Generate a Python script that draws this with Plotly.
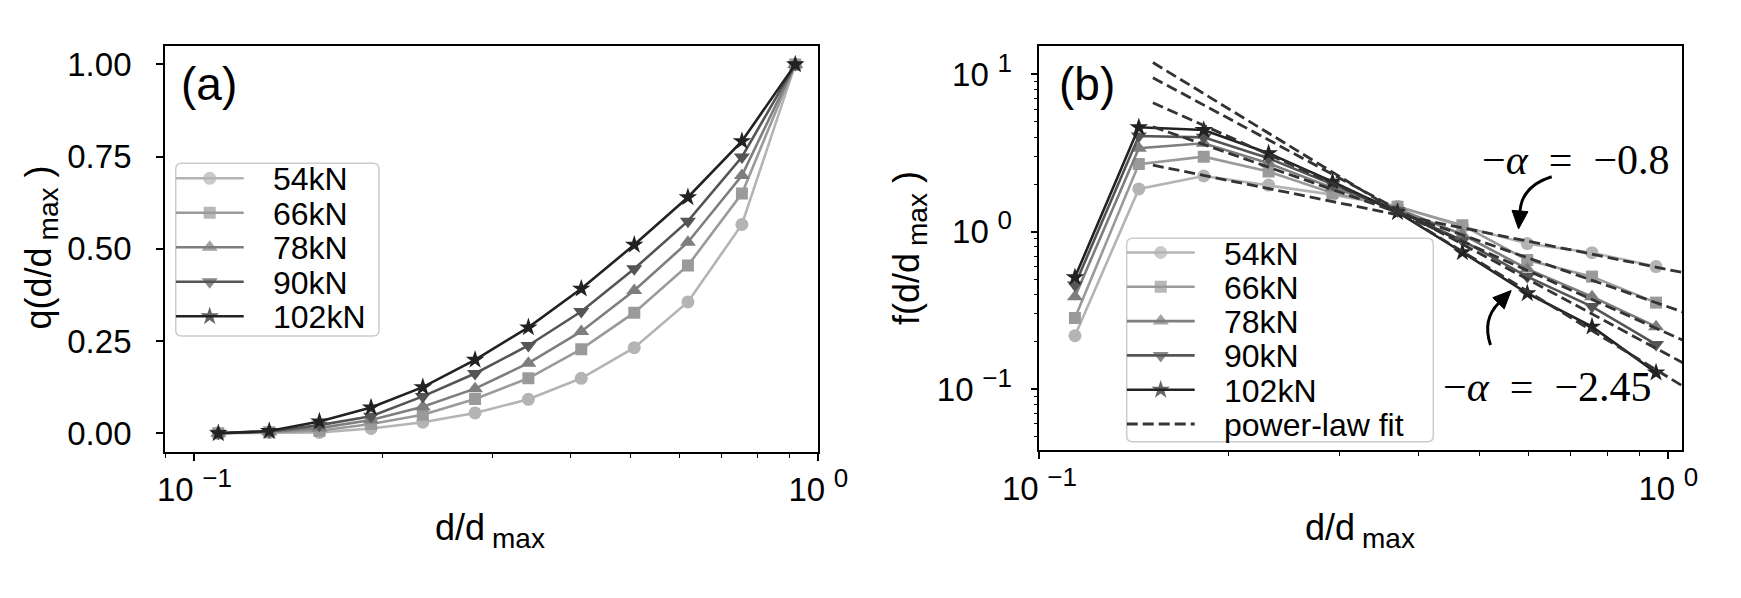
import math
import plotly.graph_objects as go

# ---------------- data ----------------
series_names = ["54kN", "66kN", "78kN", "90kN", "102kN"]
series_colors = ["#b4b4b4", "#9a9a9a", "#7e7e7e", "#555555", "#222222"]
series_symbols = ["circle", "square", "triangle-up", "triangle-down", "star"]
series_sizes = [13, 12, 14, 14, 14]

# panel (a): cumulative q(d/dmax)
xa = [0.1092, 0.1318, 0.1586, 0.1919, 0.2323, 0.2817, 0.3430, 0.4169, 0.5070, 0.6180, 0.7543, 0.9185]
q54 = [0.0, 0.002, 0.002, 0.013, 0.030, 0.055, 0.092, 0.149, 0.232, 0.356, 0.566, 1.0]
q66 = [0.0, 0.003, 0.007, 0.025, 0.050, 0.093, 0.149, 0.228, 0.327, 0.455, 0.650, 1.0]
q78 = [0.0, 0.004, 0.014, 0.036, 0.072, 0.121, 0.190, 0.276, 0.387, 0.518, 0.699, 1.0]
q90 = [0.0, 0.005, 0.022, 0.046, 0.100, 0.162, 0.238, 0.330, 0.446, 0.575, 0.749, 1.0]
q102 = [0.0, 0.006, 0.032, 0.070, 0.125, 0.199, 0.287, 0.392, 0.511, 0.640, 0.792, 1.0]

# panel (b): f(d/dmax)
xb = [0.1139, 0.1439, 0.1825, 0.2314, 0.2924, 0.3709, 0.4704, 0.5965, 0.7560, 0.9557]
f54 = [0.218, 1.87, 2.26, 1.98, 1.72, 1.45, 1.08, 0.84, 0.735, 0.60]
f66 = [0.283, 2.69, 3.00, 2.41, 1.76, 1.44, 1.10, 0.66, 0.518, 0.354]
f78 = [0.386, 3.39, 3.65, 2.72, 1.90, 1.40, 0.96, 0.58, 0.386, 0.249]
f90 = [0.458, 4.06, 3.98, 2.93, 2.00, 1.36, 0.88, 0.518, 0.334, 0.192]
f102 = [0.513, 4.61, 4.43, 3.15, 2.08, 1.33, 0.74, 0.406, 0.249, 0.127]

# power-law fit lines (end points)
fit_x = [0.1515, 1.0578]
fit54 = [2.65, 0.548]
fit66 = [4.65, 0.307]
fit78 = [6.61, 0.203]
fit90 = [9.53, 0.1457]
fit102 = [11.9, 0.1034]

qa = [q54, q66, q78, q90, q102]
fb = [f54, f66, f78, f90, f102]
fits = [fit54, fit66, fit78, fit90, fit102]

alpha_labels = ["\u2212<i>\u03b1</i>\u2002=\u2002\u22120.8", "\u2212<i>\u03b1</i>\u2002=\u2002\u22122.45"]
fit_label = "power-law fit"

# ---------------- layout helpers ----------------
W, H = 1741, 598
def fx(p):
    return p / W
def fy(p):
    return 1 - p / H

SANS = "Liberation Sans, Arial, sans-serif"
SERIF = "Liberation Serif, Times New Roman, serif"
FIT_COLOR = "#333333"
TXT = "#000000"
LW = 2.6

fig = go.Figure()

# panel (a)
for name, c, sym, sz, yv in zip(series_names, series_colors, series_symbols, series_sizes, qa):
    fig.add_trace(go.Scatter(x=xa, y=yv, mode="lines+markers", name=name,
                             line=dict(color=c, width=LW),
                             marker=dict(symbol=sym, size=sz, color=c, line=dict(width=0)),
                             xaxis="x", yaxis="y", showlegend=False))

# panel (b)
for name, c, sym, sz, yv in zip(series_names, series_colors, series_symbols, series_sizes, fb):
    fig.add_trace(go.Scatter(x=xb, y=yv, mode="lines+markers", name=name,
                             line=dict(color=c, width=LW),
                             marker=dict(symbol=sym, size=sz, color=c, line=dict(width=0)),
                             xaxis="x2", yaxis="y2", showlegend=False))
for fv in fits:
    fig.add_trace(go.Scatter(x=fit_x, y=fv, mode="lines", name=fit_label,
                             line=dict(color=FIT_COLOR, width=2.8, dash="11px,5px"),
                             xaxis="x2", yaxis="y2", showlegend=False))

# ---------------- custom legends ----------------
legA = dict(x0=175.7, x1=379.0, y0=163.3, y1=336.0, rows=[15.0, 49.5, 84.0, 118.5, 153.0])
legB = dict(x0=1126.7, x1=1433.3, y0=238.3, y1=441.7, rows=[14.2, 48.5, 82.8, 117.1, 151.4, 185.7])

def rounded_rect(x0, y0, x1, y1, r=6):
    p = "M {},{} ".format(fx(x0 + r), fy(y0))
    p += "L {},{} ".format(fx(x1 - r), fy(y0))
    p += "Q {},{} {},{} ".format(fx(x1), fy(y0), fx(x1), fy(y0 + r))
    p += "L {},{} ".format(fx(x1), fy(y1 - r))
    p += "Q {},{} {},{} ".format(fx(x1), fy(y1), fx(x1 - r), fy(y1))
    p += "L {},{} ".format(fx(x0 + r), fy(y1))
    p += "Q {},{} {},{} ".format(fx(x0), fy(y1), fx(x0), fy(y1 - r))
    p += "L {},{} ".format(fx(x0), fy(y0 + r))
    p += "Q {},{} {},{} Z".format(fx(x0), fy(y0), fx(x0 + r), fy(y0))
    return p

shapes = []
annotations = []
for leg, xa_name, ya_name, with_fit in [(legA, "x3", "y3", False), (legB, "x4", "y4", True)]:
    shapes.append(dict(type="path", path=rounded_rect(leg["x0"], leg["y0"], leg["x1"], leg["y1"]),
                       xref="paper", yref="paper", line=dict(color="#cccccc", width=1.5),
                       fillcolor="rgba(255,255,255,0.8)", layer="below"))
    for i, (name, c, sym, sz) in enumerate(zip(series_names, series_colors, series_symbols, series_sizes)):
        ry = leg["rows"][i]
        fig.add_trace(go.Scatter(x=[0, 34, 68], y=[ry, ry, ry], mode="lines+markers",
                                 line=dict(color=c, width=LW),
                                 marker=dict(symbol=sym, size=[0, sz, 0], color=c, line=dict(width=0)),
                                 xaxis=xa_name, yaxis=ya_name, showlegend=False, hoverinfo="skip"))
        annotations.append(dict(x=fx(leg["x0"] + 95), y=fy(leg["y0"] + ry + 1), xref="paper", yref="paper",
                                text=name, showarrow=False, xanchor="left", yanchor="middle",
                                font=dict(family=SANS, size=32, color=TXT)))
    if with_fit:
        ry = leg["rows"][5]
        fig.add_trace(go.Scatter(x=[0, 68], y=[ry, ry], mode="lines",
                                 line=dict(color=FIT_COLOR, width=2.8, dash="11px,5px"),
                                 xaxis=xa_name, yaxis=ya_name, showlegend=False, hoverinfo="skip"))
        annotations.append(dict(x=fx(leg["x0"] + 95), y=fy(leg["y0"] + ry + 1), xref="paper", yref="paper",
                                text=fit_label, showarrow=False, xanchor="left", yanchor="middle",
                                font=dict(family=SANS, size=32, color=TXT)))

# ---------------- curved arrows ----------------
def curve(p0, c, p1):
    return "M {},{} Q {},{} {},{}".format(fx(p0[0]), fy(p0[1]), fx(c[0]), fy(c[1]), fx(p1[0]), fy(p1[1]))

def head(base, ctrl, length=18, half=8):
    dx, dy = base[0] - ctrl[0], base[1] - ctrl[1]
    n = math.hypot(dx, dy)
    ux, uy = dx / n, dy / n
    tip = (base[0] + ux * length, base[1] + uy * length)
    px_, py_ = -uy, ux
    a = (base[0] + px_ * half, base[1] + py_ * half)
    b = (base[0] - px_ * half, base[1] - py_ * half)
    return "M {},{} L {},{} L {},{} Z".format(fx(tip[0]), fy(tip[1]), fx(a[0]), fy(a[1]), fx(b[0]), fy(b[1]))

arrows = [((1551.7, 176.7), (1522.0, 186.0), (1520.0, 211.0)),
          ((1490.5, 345.0), (1482.0, 320.0), (1498.5, 303.3))]
for p0, c, p1 in arrows:
    shapes.append(dict(type="path", path=curve(p0, c, p1), xref="paper", yref="paper",
                       line=dict(color="black", width=3), layer="above"))
    shapes.append(dict(type="path", path=head(p1, c), xref="paper", yref="paper",
                       line=dict(color="black", width=1), fillcolor="black", layer="above"))

# ---------------- text ----------------
annotations += [
    dict(x=fx(179), y=fy(84), text="(a)", xanchor="left", yanchor="middle"),
    dict(x=fx(1057), y=fy(84), text="(b)", xanchor="left", yanchor="middle"),
]
for a in annotations[-2:]:
    a.update(xref="paper", yref="paper", showarrow=False, font=dict(family=SANS, size=46, color=TXT))

annotations += [
    dict(x=fx(1480), y=fy(160), text=alpha_labels[0], xanchor="left", yanchor="middle"),
    dict(x=fx(1441), y=fy(387), text=alpha_labels[1], xanchor="left", yanchor="middle"),
]
for a in annotations[-2:]:
    a.update(xref="paper", yref="paper", showarrow=False, font=dict(family=SERIF, size=42, color=TXT))

SUBMAX = "<sub><span style='font-size:28px'>\u2005max</span></sub>"
axis_titles = [
    dict(x=fx(41.5), y=fy(248), text="q(d/d" + SUBMAX + " )", textangle=-90),
    dict(x=fx(910), y=fy(248), text="f(d/d" + SUBMAX + " )", textangle=-90),
    dict(x=fx(490), y=fy(530), text="d/d" + SUBMAX),
    dict(x=fx(1360), y=fy(530), text="d/d" + SUBMAX),
]
for a in axis_titles:
    a.update(xref="paper", yref="paper", showarrow=False, xanchor="center", yanchor="middle",
             font=dict(family=SANS, size=36, color=TXT))
annotations += axis_titles

# ---------------- axes ----------------
tickfont = dict(family=SANS, size=33, color=TXT)
common = dict(showline=True, linecolor="black", linewidth=1.8, mirror=True, showgrid=False,
              zeroline=False, ticks="outside", ticklen=7, tickwidth=1.5, tickcolor="black",
              tickfont=tickfont, automargin=False)
log_minor_x = dict(ticks="outside", ticklen=4, tickwidth=1.2, tickcolor="black", showgrid=False,
                   tickmode="array", tickvals=[0.09, 0.2, 0.3, 0.4, 0.5, 0.6, 0.7, 0.8, 0.9])
log_minor_y = dict(ticks="outside", ticklen=4, tickwidth=1.2, tickcolor="black", showgrid=False,
                   tickmode="array",
                   tickvals=[0.05, 0.06, 0.07, 0.08, 0.09, 0.2, 0.3, 0.4, 0.5, 0.6, 0.7, 0.8, 0.9,
                             2, 3, 4, 5, 6, 7, 8, 9])

def sup_label(e):
    return "10<sup><span style='font-size:26px'>\u2004" + e + "</span></sup>"

fig.update_layout(
    template="none",
    width=W, height=H, autosize=False,
    margin=dict(l=0, r=0, t=0, b=0, pad=0),
    paper_bgcolor="white", plot_bgcolor="rgba(0,0,0,0)",
    showlegend=False,
    xaxis=dict(domain=[fx(165), fx(818.3)], type="log", range=[math.log10(0.0897), 0.0],
               tickmode="array", tickvals=[0.1, 1.0], ticktext=[sup_label("\u22121"), sup_label("0")],
               minor=log_minor_x, anchor="y", ticklabelstandoff=1, **common),
    yaxis=dict(domain=[fy(451.7), fy(46)], range=[-0.05, 1.05],
               tickmode="array", tickvals=[0, 0.25, 0.5, 0.75, 1.0],
               ticktext=["0.00", "0.25", "0.50", "0.75", "1.00"], anchor="x",
               ticklabelstandoff=18, **common),
    xaxis2=dict(domain=[fx(1039.4), fx(1682)], type="log", range=[-1.0, 0.0216],
                tickmode="array", tickvals=[0.1, 1.0], ticktext=[sup_label("\u22121"), sup_label("0")],
                minor=log_minor_x, anchor="y2", ticklabelstandoff=1, **common),
    yaxis2=dict(domain=[fy(450), fy(46)], type="log", range=[-1.388, 1.1806],
                tickmode="array", tickvals=[0.1, 1.0, 10.0],
                ticktext=[sup_label("\u22121"), sup_label("0"), sup_label("1")],
                minor=log_minor_y, anchor="x2", ticklabelstandoff=12, **common),
    xaxis3=dict(domain=[fx(legA["x0"]), fx(legA["x1"])], range=[0, legA["x1"] - legA["x0"]],
                visible=False, anchor="y3", automargin=False),
    yaxis3=dict(domain=[fy(legA["y1"]), fy(legA["y0"])], range=[legA["y1"] - legA["y0"], 0],
                visible=False, anchor="x3", automargin=False),
    xaxis4=dict(domain=[fx(legB["x0"]), fx(legB["x1"])], range=[0, legB["x1"] - legB["x0"]],
                visible=False, anchor="y4", automargin=False),
    yaxis4=dict(domain=[fy(legB["y1"]), fy(legB["y0"])], range=[legB["y1"] - legB["y0"], 0],
                visible=False, anchor="x4", automargin=False),
    shapes=shapes,
    annotations=annotations,
)

fig.write_html("out.html")
